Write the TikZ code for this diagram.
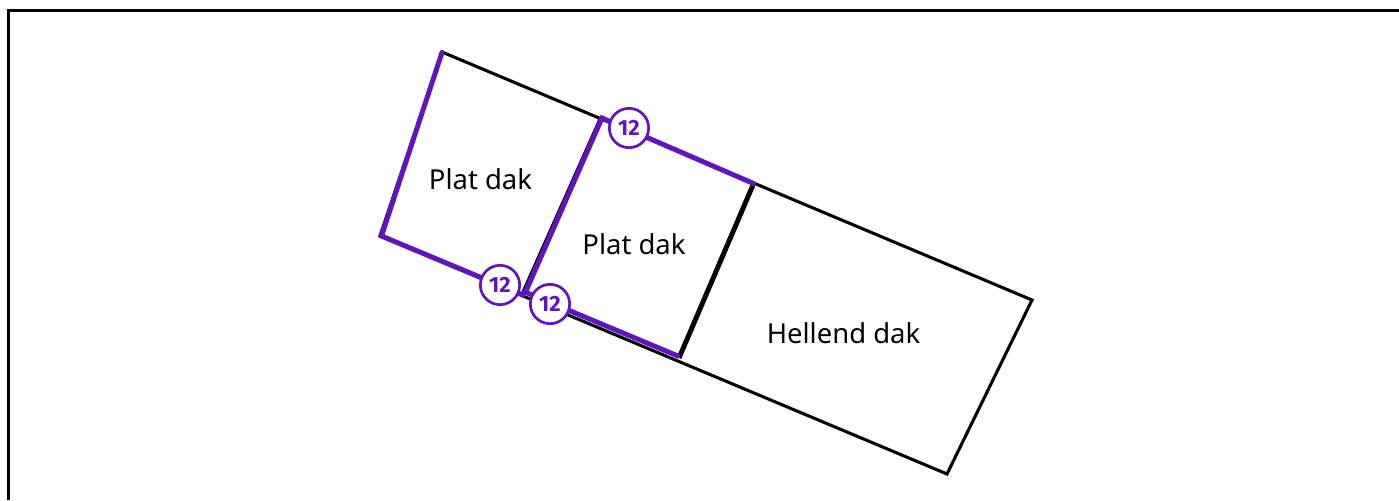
\documentclass[tikz,border=0pt]{standalone}
\usepackage{fontspec}
\setmainfont{Noto Sans}
\newfontfamily\badgefont{Fira Sans}
\definecolor{roofpurple}{RGB}{98,18,190}
\tikzset{
  edgeline/.style={draw=black,line width=2.3pt,line join=miter,line cap=round},
  heavyline/.style={draw=black,line width=3.7pt},
  accent/.style={draw=roofpurple,line width=3.7pt,line cap=round,line join=miter},
  badge/.style={circle,draw=roofpurple,line width=2pt,fill=white,minimum size=29.5pt,inner sep=0pt,text=roofpurple,font=\badgefont\bfseries\fontsize{16.5}{16.5}\selectfont},
  rooflabel/.style={font=\fontsize{20.6}{24}\selectfont,text=black,inner sep=0pt},
}
\begin{document}
\begin{tikzpicture}[x=0.75pt,y=-0.75pt]
\useasboundingbox (0,0) rectangle (1399,500);
\fill[white] (0,0) rectangle (1399,500);
\coordinate (fl) at (8.5,500);
\coordinate (ftl) at (8.5,10.5);
\coordinate (ftr) at (1399,10.5);
\draw[draw=black,line width=2.9pt] (fl) -- (ftl) -- (ftr);
\coordinate (a) at (442,52);
\coordinate (b) at (1032,300);
\coordinate (c) at (947,474);
\coordinate (d) at (380,236);
\coordinate (e) at (600,119);
\coordinate (f) at (523,292);
\coordinate (g) at (753,185);
\coordinate (h) at (679,358);
\draw[edgeline] (a) -- (b) -- (c) -- (d) -- cycle;
\draw[edgeline] (e) -- (f);
\draw[heavyline] (g) -- (h);
\coordinate (pa) at (442,52.5);
\coordinate (pd) at (381.5,236);
\coordinate (pm) at (523,295);
\coordinate (pe) at (602,118);
\coordinate (pg) at (753.5,183.5);
\coordinate (ph) at (678,356);
\coordinate (pf) at (526,291);
\coordinate (pn) at (525,292);
\draw[accent] (pa) -- (pd) -- (pm);
\draw[accent] (pf) -- (pe) -- (pg);
\draw[accent] (pn) -- (ph);
\node[badge] (b1) at (629,128) {12};
\node[badge] (b2) at (500,285) {12};
\node[badge] (b3) at (550,304) {12};
\node[rooflabel] (l1) at (480.5,179) {Plat dak};
\node[rooflabel] (l2) at (634,244) {Plat dak};
\node[rooflabel] (l3) at (843.5,333) {Hellend dak};
\end{tikzpicture}
\end{document}
